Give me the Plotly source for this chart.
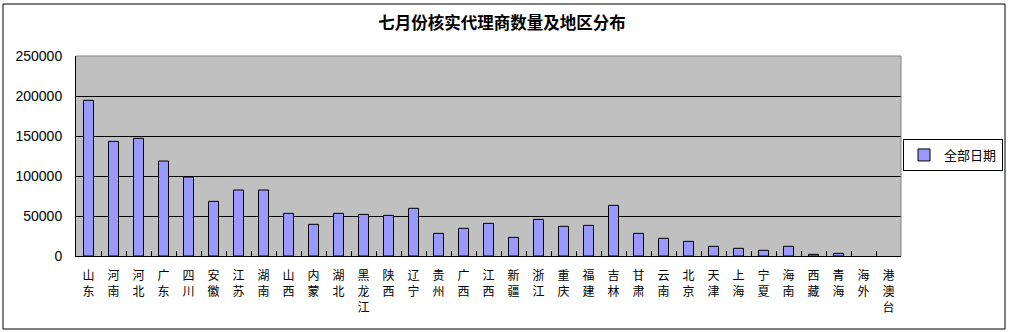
import plotly.graph_objects as go

categories = ["山东", "河南", "河北", "广东", "四川", "安徽", "江苏", "湖南", "山西", "内蒙",
              "湖北", "黑龙江", "陕西", "辽宁", "贵州", "广西", "江西", "新疆", "浙江", "重庆",
              "福建", "吉林", "甘肃", "云南", "北京", "天津", "上海", "宁夏", "海南", "西藏",
              "青海", "海外", "港澳台"]
values = [194600, 143300, 147100, 118700, 98700, 68300, 82500, 82500, 53300, 39600,
          53300, 52000, 50800, 59600, 28300, 34600, 40800, 23300, 45800, 37100,
          38300, 63300, 28300, 22100, 18300, 12100, 9600, 7100, 12100, 2100,
          3300, 0, 0]
series_name = "全部日期"
title_text = "七月份核实代理商数量及地区分布"
y_ticks = [0, 50000, 100000, 150000, 200000, 250000]

tick_text = ["<br>".join(list(c)) for c in categories]
outline_widths = [1 if v > 0 else 0 for v in values]

fig = go.Figure()
fig.add_trace(go.Bar(
    x=categories, y=values, name=series_name, width=0.4,
    marker=dict(color="#9999FF", line=dict(color="black", width=outline_widths)),
    showlegend=True,
))

fig.update_layout(
    width=1012, height=332,
    margin=dict(l=76, r=111, t=56, b=76, autoexpand=False),
    paper_bgcolor="white", plot_bgcolor="#C0C0C0",
    title=dict(text="<b>" + title_text + "</b>", x=502 / 1012, xanchor="center",
               y=1 - 23 / 332, yanchor="middle",
               font=dict(family="Noto Sans CJK SC", size=16.5, color="black")),
    font=dict(family="Liberation Sans", color="black"),
    bargap=0.6,
    legend=dict(xref="container", yref="container", x=903 / 1012, xanchor="left",
                y=1 - 155 / 332, yanchor="middle",
                bordercolor="black", borderwidth=1, bgcolor="white",
                font=dict(family="Noto Sans CJK SC", size=13, color="black"),
                itemwidth=30, tracegroupgap=0),
    showlegend=True,
)
fig.update_xaxes(
    tickmode="array", tickvals=categories, ticktext=tick_text,
    tickangle=0, tickfont=dict(family="Noto Sans CJK SC", size=12, color="black"),
    showline=True, linecolor="black", linewidth=1,
    ticks="inside", tickson="boundaries", ticklen=5, tickcolor="black",
    showgrid=False, ticklabelstandoff=9,
)
fig.update_yaxes(
    range=[0, 250000], tickmode="array", tickvals=y_ticks,
    ticktext=[str(v) for v in y_ticks],
    tickfont=dict(family="Liberation Sans", size=14, color="black"),
    showline=True, linecolor="black", linewidth=1,
    ticks="inside", ticklen=6, tickcolor="black",
    showgrid=True, gridcolor="black", gridwidth=1, zeroline=False,
    ticklabelstandoff=10,
)
# plot-area border (top/right grey) and chart-area frame
fig.add_shape(type="line", xref="paper", yref="paper", x0=0, x1=1, y0=1, y1=1,
              line=dict(color="#808080", width=1))
fig.add_shape(type="line", xref="paper", yref="paper", x0=1, x1=1, y0=0, y1=1,
              line=dict(color="#808080", width=1))
fig.add_shape(type="rect", xref="paper", yref="paper",
              x0=-73 / 825, x1=1 + 104 / 825, y0=-73 / 200, y1=1 + 52 / 200,
              line=dict(color="black", width=1))

fig.write_html("out.html")
